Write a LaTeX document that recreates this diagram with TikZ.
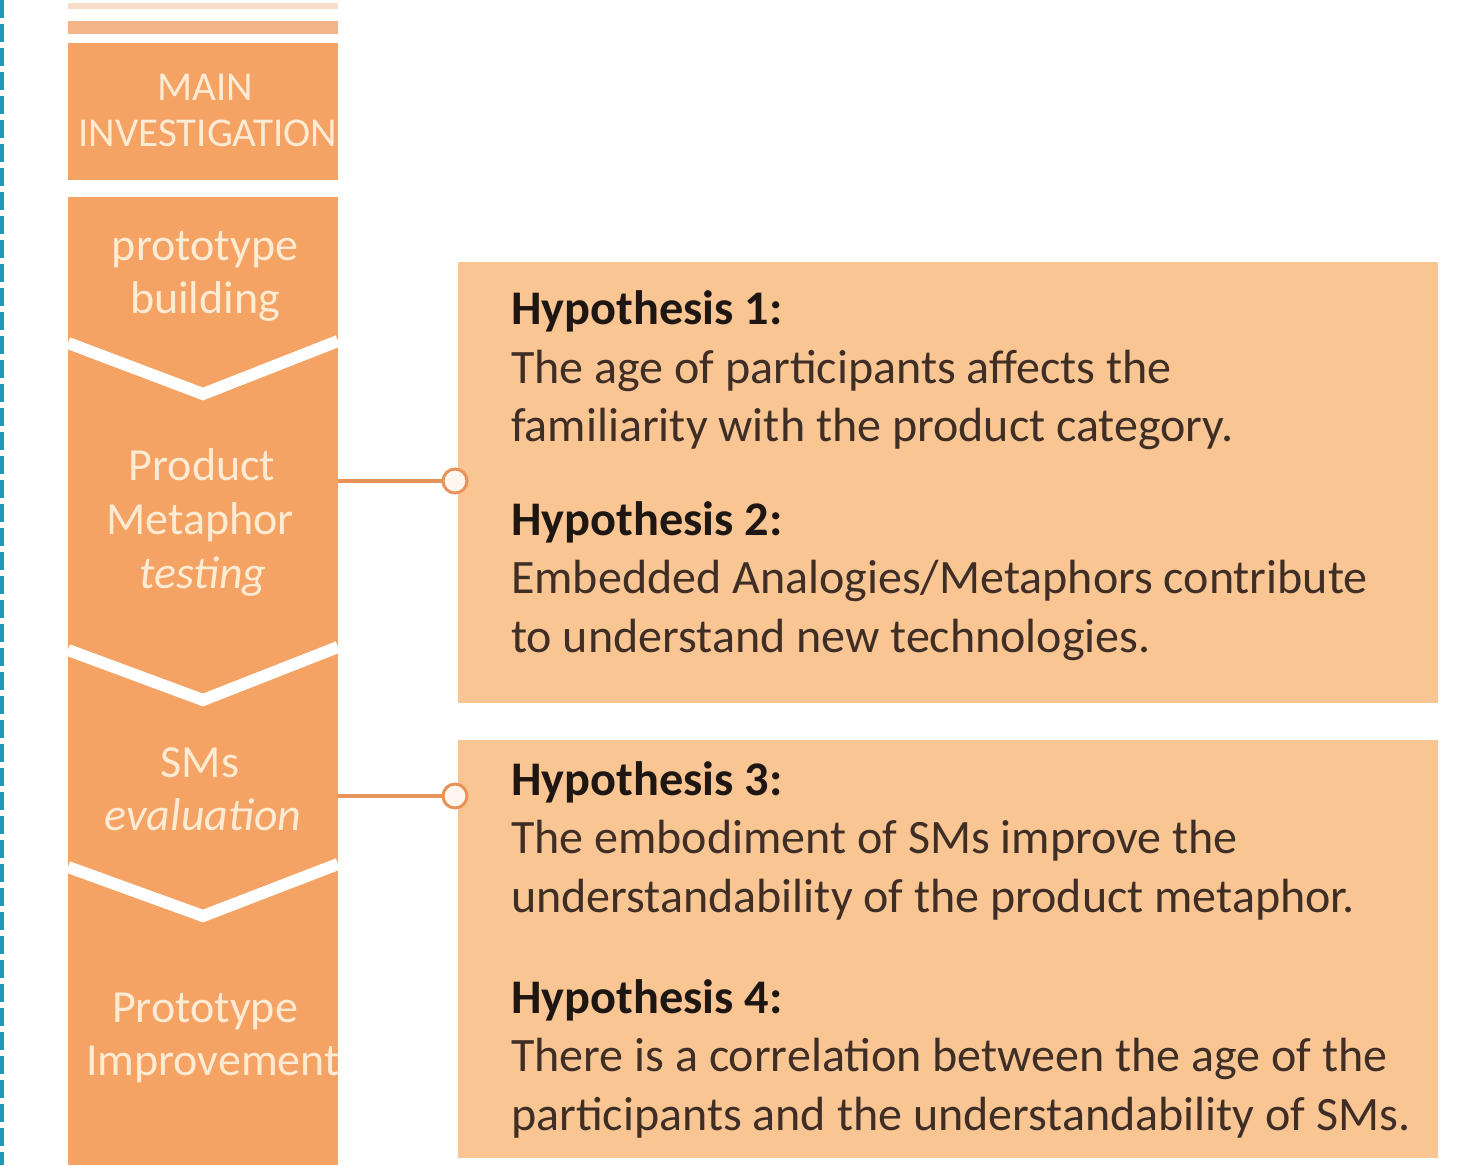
\documentclass[tikz,border=0pt]{standalone}
\usepackage{fontspec}
\setmainfont{Carlito}
\definecolor{colorange}{HTML}{F5A365}
\definecolor{hypfill}{HTML}{F9C593}
\definecolor{creamtxt}{HTML}{FDEBD3}
\definecolor{connc}{HTML}{E8935A}
\definecolor{barfaint}{HTML}{F7DDCA}
\definecolor{barmid}{HTML}{F3B488}
\definecolor{headtxt}{HTML}{1E1612}
\definecolor{bodytxt}{HTML}{3E2E25}
\definecolor{dashblue}{HTML}{1E96BE}
\begin{document}
\begin{tikzpicture}[x=1pt,y=-1pt,
  colbox/.style={fill=colorange,draw=none,inner sep=0pt,anchor=north west},
  hypbox/.style={fill=hypfill,draw=none,inner sep=0pt,anchor=north west},
  coltxt/.style={anchor=base,inner sep=0pt,text=creamtxt,font=\fontsize{46}{52}\selectfont},
  headline/.style={anchor=base west,inner sep=0pt,text=headtxt,font=\fontsize{48.3}{56}\selectfont\bfseries},
  bodyline/.style={anchor=base west,inner sep=0pt,text=bodytxt,font=\fontsize{48}{56}\selectfont},
  chev/.style={draw=white,line width=12pt,line join=miter},
  conn/.style={draw=connc,line width=4pt},
  dot/.style={circle,draw=connc,line width=3pt,fill=white!85!hypfill,minimum size=24pt,inner sep=0pt}]
\useasboundingbox (0,0) rectangle (1483,1165);
\fill[white] (0,0) rectangle (1483,1165);
% left dashed border
\coordinate (dt) at (2,0);
\coordinate (db) at (2,1165);
\draw[dashblue,line width=4pt,dash pattern=on 18pt off 6pt] (dt) -- (db);
% top bars
\node (bar1) [colbox,fill=barfaint,minimum width=270pt,minimum height=6pt] at (68,3) {};
\node (bar2) [colbox,fill=barmid,minimum width=270pt,minimum height=13pt] at (68,21) {};
% main investigation box
\node (main) [colbox,minimum width=270pt,minimum height=137pt] at (68,43) {};
\node (mainA) [coltxt,font=\fontsize{41}{46}\selectfont] at (205,100) {MAIN};
\node (mainB) [coltxt,font=\fontsize{41}{46}\selectfont] at (208,146) {INVESTIGATION};
% column
\node (col) [colbox,minimum width=270pt,minimum height=968pt] at (68,197) {};
\draw[chev] (68,343) -- (203,394) -- (338,341);
\draw[chev] (68,650) -- (203,700) -- (338,647);
\draw[chev] (68,867) -- (203,916) -- (338,864);
\node (s1a) [coltxt] at (205,260) {prototype};
\node (s1b) [coltxt] at (205,313) {building};
\node (s2a) [coltxt] at (202,480) {Product};
\node (s2b) [coltxt] at (200,534) {Metaphor};
\node (s2c) [coltxt,font=\fontsize{46}{52}\selectfont\itshape] at (203,588) {testing};
\node (s3a) [coltxt] at (200,777) {SMs};
\node (s3b) [coltxt,font=\fontsize{46}{52}\selectfont\itshape] at (203,830) {evaluation};
\node (s4a) [coltxt] at (205,1022) {Prototype};
\node (s4b) [coltxt] at (213,1075) {Improvement};
% hypothesis boxes
\node (hb1) [hypbox,minimum width=980pt,minimum height=441pt] at (458,262) {};
\node (hb2) [hypbox,minimum width=980pt,minimum height=418pt] at (458,740) {};
% connectors
\node (c1) [dot] at (455,481) {};
\node (c2) [dot] at (455,796) {};
\draw[conn] (col.east |- c1.center) -- (c1.west);
\draw[conn] (col.east |- c2.center) -- (c2.west);
% hypothesis texts
\node (h1) [headline] at (511,324) {Hypothesis 1:};
\node (h1a) [bodyline] at (511,383) {The age of participants affects the};
\node (h1b) [bodyline] at (511,441) {familiarity with the product category.};
\node (h2) [headline] at (511,535) {Hypothesis 2:};
\node (h2a) [bodyline] at (511,593) {Embedded Analogies/Metaphors contribute};
\node (h2b) [bodyline] at (511,652) {to understand new technologies.};
\node (h3) [headline] at (511,795) {Hypothesis 3:};
\node (h3a) [bodyline] at (511,853) {The embodiment of SMs improve the};
\node (h3b) [bodyline] at (511,912) {understandability of the product metaphor.};
\node (h4) [headline] at (511,1013) {Hypothesis 4:};
\node (h4a) [bodyline] at (511,1071) {There is a correlation between the age of the};
\node (h4b) [bodyline] at (511,1130) {participants and the understandability of SMs.};
\end{tikzpicture}
\end{document}
